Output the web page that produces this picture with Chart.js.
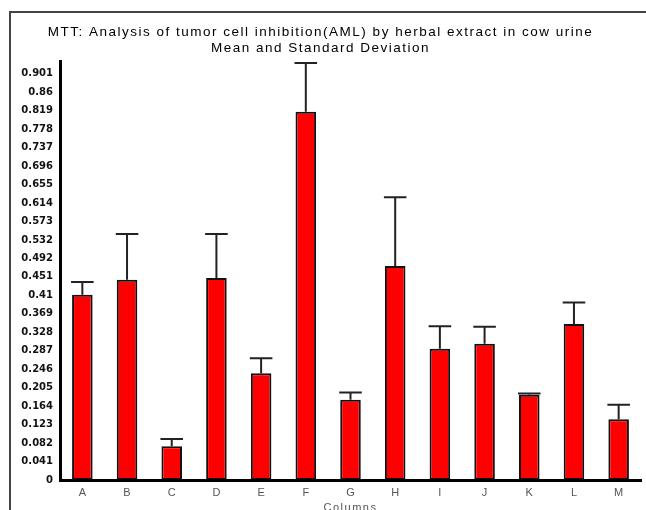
<!DOCTYPE html>
<html>
<head>
<meta charset="utf-8">
<script src="https://cdn.jsdelivr.net/npm/chart.js@4"></script>
<style>
  html, body { margin: 0; padding: 0; background: #fff; overflow: hidden; }
  #wrap { position: relative; width: 646px; height: 520px; }
  #frame { position: absolute; left: 9px; top: 11px; width: 700px; height: 600px;
           border-top: 2px solid #444; border-left: 2px solid #444; }
  canvas { position: absolute; left: 0; top: 0; }
</style>
</head>
<body>
<div id="wrap">
  <div id="frame"></div>
  <canvas id="mttChart" width="646" height="520"></canvas>
</div>
<script>
// columns and their mean / standard deviation
const columns = ['A', 'B', 'C', 'D', 'E', 'F', 'G', 'H', 'I', 'J', 'K', 'L', 'M'];
const means = [0.411, 0.444, 0.075, 0.448, 0.237, 0.817, 0.178, 0.475, 0.291, 0.302, 0.189, 0.346, 0.135];
const stdDevs = [0.028, 0.102, 0.016, 0.098, 0.033, 0.108, 0.016, 0.152, 0.050, 0.038, 0.003, 0.048, 0.032];
const yTickLabels = ['0', '0.041', '0.082', '0.123', '0.164', '0.205', '0.246', '0.287', '0.328', '0.369', '0.41',
    '0.451', '0.492', '0.532', '0.573', '0.614', '0.655', '0.696', '0.737', '0.778', '0.819', '0.86', '0.901'];

// the original title is set with loose letter spacing; tick labels are drawn
// after the datasets (ticks.z = 1) so they are back to normal spacing
const titleSpacing = {
    id: 'titleSpacing',
    beforeDraw(chart) { chart.ctx.letterSpacing = '1.5px'; },
    beforeDatasetsDraw(chart) { chart.ctx.letterSpacing = '0px'; }
};

// draws the standard deviation whiskers on top of each bar
const errorBars = {
    id: 'errorBars',
    afterDatasetsDraw(chart) {
        const ctx = chart.ctx;
        const y = chart.scales.y;
        const meta = chart.getDatasetMeta(0);
        ctx.save();
        ctx.strokeStyle = '#222';
        ctx.lineWidth = 2;
        meta.data.forEach((bar, i) => {
            const yBar = y.getPixelForValue(means[i]);
            const yTop = y.getPixelForValue(means[i] + stdDevs[i]);
            const half = bar.width / 2 + 1;
            ctx.beginPath();
            ctx.moveTo(bar.x, yBar);
            ctx.lineTo(bar.x, yTop);
            ctx.moveTo(bar.x - half, yTop);
            ctx.lineTo(bar.x + half, yTop);
            ctx.stroke();
        });
        ctx.restore();
    }
};

const ctx = document.getElementById('mttChart').getContext('2d');
new Chart(ctx, {
    type: 'bar',
    data: {
        labels: columns,
        datasets: [{
            label: 'Mean',
            data: means,
            backgroundColor: '#ff0000',
            borderColor: '#111',
            borderWidth: 2,
            borderSkipped: false,
            barPercentage: 0.46,
            categoryPercentage: 1
        }]
    },
    options: {
        responsive: false,
        animation: false,
        layout: { padding: { left: 0, right: 5, top: 0, bottom: 0 } },
        plugins: {
            legend: { display: false },
            tooltip: { enabled: false },
            title: {
                display: true,
                text: ['MTT: Analysis of tumor cell inhibition(AML) by herbal extract in cow urine',
                       'Mean and Standard Deviation'],
                color: '#000',
                font: { family: 'Liberation Sans', size: 13.5, weight: 'normal', lineHeight: 1.18 },
                padding: { top: 24, bottom: 6 }
            }
        },
        scales: {
            x: {
                grid: { display: false, drawTicks: true, tickLength: 4 },
                border: { display: true, color: '#000', width: 3, z: 1 },
                ticks: { z: 1, color: '#555', font: { family: 'Liberation Sans', size: 11 }, padding: 2 },
                title: {
                    display: true,
                    text: 'Columns',
                    color: '#555',
                    font: { family: 'Liberation Sans', size: 11 },
                    padding: { top: 2, bottom: 5 }
                },
                afterFit(scale) { scale.height = 40; }
            },
            y: {
                min: 0,
                max: 0.9276,
                grid: { display: false, drawTicks: true, tickLength: 4, tickColor: '#333' },
                border: { display: true, color: '#000', width: 3, z: 1 },
                afterBuildTicks(scale) {
                    scale.ticks = yTickLabels.map(v => ({ value: parseFloat(v) }));
                },
                ticks: {
                    z: 1,
                    color: '#111',
                    font: { family: 'DejaVu Sans', size: 10, weight: 'bold' },
                    padding: 3,
                    autoSkip: false,
                    callback: (value, index) => yTickLabels[index]
                },
                afterFit(scale) { scale.width = 60; }
            }
        }
    },
    plugins: [titleSpacing, errorBars]
});
</script>
</body>
</html>
